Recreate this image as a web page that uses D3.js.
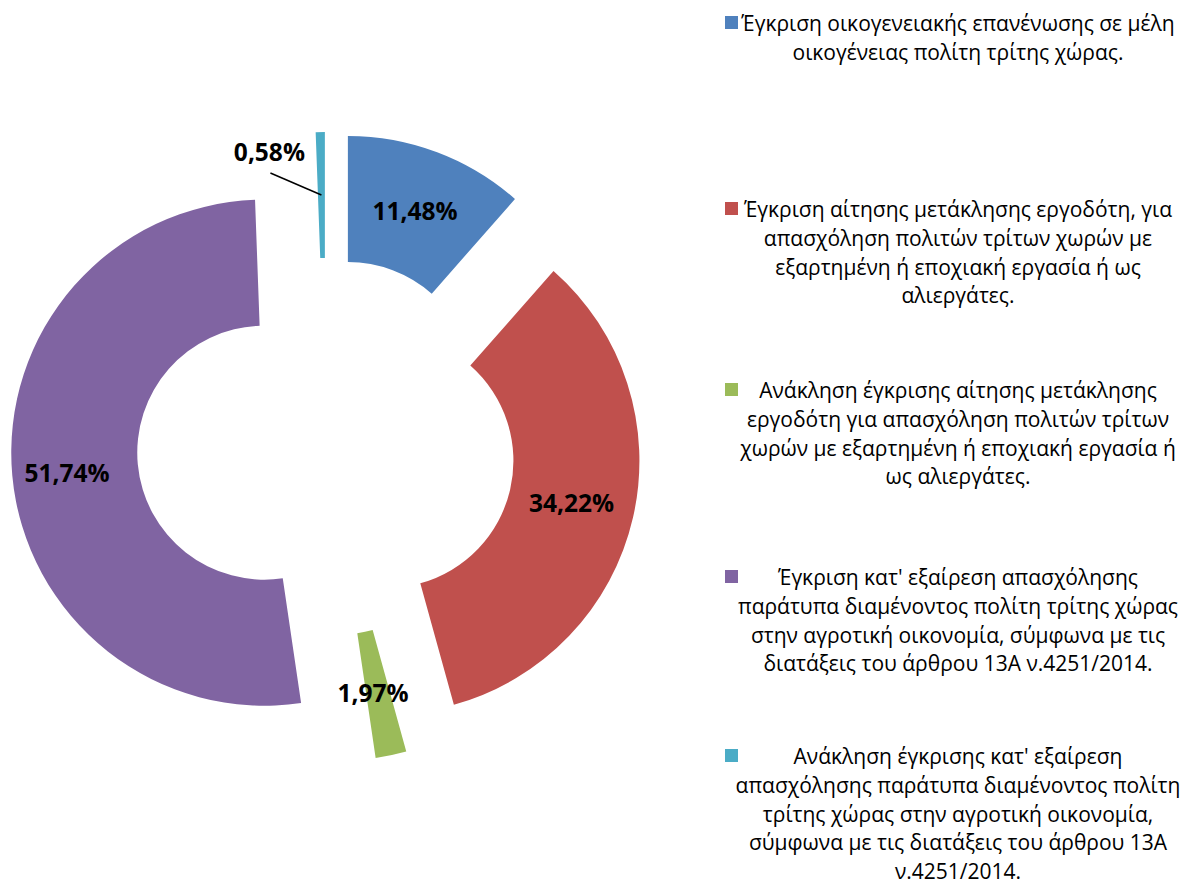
<!doctype html>
<html>
<head>
  <meta charset="utf-8">
  <title>Donut</title>
  <script src="https://d3js.org/d3.v7.min.js"></script>
  <style>
    body { margin: 0; background: #fff; }
    text { font-family: "Open Sans", "Noto Sans", sans-serif; }
  </style>
</head>
<body>
<svg width="1186" height="885"></svg>
<script>
  var categories = [
    "Έγκριση οικογενειακής επανένωσης σε μέλη\nοικογένειας πολίτη τρίτης χώρας.",
    "Έγκριση αίτησης μετάκλησης εργοδότη, για\nαπασχόληση πολιτών τρίτων χωρών με\nεξαρτημένη ή εποχιακή εργασία ή ως\nαλιεργάτες.",
    "Ανάκληση έγκρισης αίτησης μετάκλησης\nεργοδότη για απασχόληση πολιτών τρίτων\nχωρών με εξαρτημένη ή εποχιακή εργασία ή\nως αλιεργάτες.",
    "Έγκριση κατ' εξαίρεση απασχόλησης\nπαράτυπα διαμένοντος πολίτη τρίτης χώρας\nστην αγροτική οικονομία, σύμφωνα με τις\nδιατάξεις του άρθρου 13Α ν.4251/2014.",
    "Ανάκληση έγκρισης κατ' εξαίρεση\nαπασχόλησης παράτυπα διαμένοντος πολίτη\nτρίτης χώρας στην αγροτική οικονομία,\nσύμφωνα με τις διατάξεις του άρθρου 13Α\nν.4251/2014."
  ];
  var values = [11.48, 34.22, 1.97, 51.74, 0.58];
  var colors = ["#4F81BD", "#C0504D", "#9BBB59", "#8064A2", "#4BACC6"];
  var legendY = [31, 217, 398, 585, 764];   // baseline of first line

  var svg = d3.select("svg");
  var cx = 326, cy = 447,
      outerR = 253, innerR = 127,
      explode = 62;

  var gr = d3.formatLocale({decimal: ",", thousands: ".", grouping: [3], currency: ["", "€"]});
  var fmt = gr.format(".2f");

  var pie = d3.pie().sort(null).value(function(d) { return d; });
  var arc = d3.arc().innerRadius(innerR).outerRadius(outerR);
  var arcs = pie(values);

  function shift(d) {
    var a = (d.startAngle + d.endAngle) / 2;
    return [explode * Math.sin(a), -explode * Math.cos(a)];
  }

  var g = svg.append("g").attr("transform", "translate(" + cx + "," + cy + ")");

  var slice = g.selectAll(".slice")
    .data(arcs)
    .enter().append("g")
      .attr("class", "slice")
      .attr("transform", function(d) { var s = shift(d); return "translate(" + s[0] + "," + s[1] + ")"; });

  slice.append("path")
    .attr("d", arc)
    .attr("fill", function(d, i) { return colors[i]; });

  // labels
  slice.each(function(d, i) {
    var c = arc.centroid(d);
    var sel = d3.select(this);
    var lx = c[0], ly = c[1];
    if (i === 4) {
      lx = c[0] - 52; ly = c[1] - 43;
      sel.append("line")
        .attr("x1", lx + 1).attr("y1", ly + 21)
        .attr("x2", c[0]).attr("y2", c[1])
        .attr("stroke", "#000").attr("stroke-width", 1.5);
    }
    if (i === 3) { lx -= 8; ly += 3; }
    if (i === 2) { lx -= 5; }
    sel.append("text")
      .attr("x", lx).attr("y", ly)
      .attr("dy", "0.35em")
      .attr("text-anchor", "middle")
      .attr("font-size", 24.5)
      .attr("font-weight", "bold")
      .attr("fill", "#000")
      .text(fmt(values[i]) + "%");
  });

  // legend
  var legend = svg.append("g");
  var textCenter = 958, lineH = 28.8;
  categories.forEach(function(c, i) {
    legend.append("rect")
      .attr("x", 725).attr("y", legendY[i] - 15)
      .attr("width", 13).attr("height", 13)
      .attr("fill", colors[i]);
    var t = legend.append("text")
      .attr("x", textCenter).attr("y", legendY[i])
      .attr("text-anchor", "middle")
      .attr("font-size", 21)
      .attr("fill", "#000");
    c.split("\n").forEach(function(line, j) {
      t.append("tspan")
        .attr("x", textCenter)
        .attr("y", legendY[i] + j * lineH)
        .text(line);
    });
  });
</script>
</body>
</html>
